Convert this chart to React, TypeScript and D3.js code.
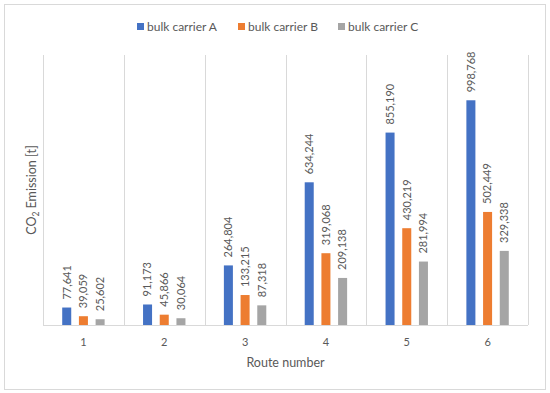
import React, { useEffect, useRef } from 'react';
import * as d3 from 'd3';

const routes = ['1', '2', '3', '4', '5', '6'];
const seriesNames = ['bulk carrier A', 'bulk carrier B', 'bulk carrier C'];
const carrierA = [77641, 91173, 264804, 634244, 855190, 998768];
const carrierB = [39059, 45866, 133215, 319068, 430219, 502449];
const carrierC = [25602, 30064, 87318, 209138, 281994, 329338];
const colors = ['#4472C4', '#ED7D31', '#A5A5A5'];

const W = 550;
const H = 393;
const FONT = 'Lato, "Open Sans", sans-serif';

export default function App() {
  const ref = useRef<SVGSVGElement>(null);

  useEffect(() => {
    const svg = d3.select(ref.current);
    svg.selectAll('*').remove();

    const margin = { top: 55, right: 22, bottom: 68, left: 43 };
    const innerW = W - margin.left - margin.right;
    const innerH = H - margin.top - margin.bottom;
    const series = [carrierA, carrierB, carrierC];

    // chart frame
    svg.append('rect')
      .attr('x', 4.5).attr('y', 4.5)
      .attr('width', 541).attr('height', 385)
      .attr('fill', '#fff')
      .attr('stroke', '#d9d9d9');

    const x0 = d3.scaleBand().domain(routes).range([0, innerW]);
    const x1 = d3.scaleBand<number>()
      .domain([0, 1, 2])
      .range([-21.2, 21.2])
      .paddingInner(0.46);
    const y = d3.scaleLinear().domain([0, 1200000]).range([innerH, 0]);

    const g = svg.append('g').attr('transform', `translate(${margin.left},${margin.top})`);

    // vertical gridlines at category boundaries
    const bounds = routes.map(r => x0(r) as number).concat([innerW]);
    g.selectAll('line.grid')
      .data(bounds)
      .join('line')
      .attr('class', 'grid')
      .attr('x1', d => Math.round(d) + 0.5).attr('x2', d => Math.round(d) + 0.5)
      .attr('y1', 0).attr('y2', innerH)
      .attr('stroke', '#d9d9d9');

    // baseline
    g.append('line')
      .attr('x1', 0).attr('x2', innerW)
      .attr('y1', innerH + 0.5).attr('y2', innerH + 0.5)
      .attr('stroke', '#d9d9d9');

    series.forEach((vals, si) => {
      const cx = (r: string) => (x0(r) as number) + x0.bandwidth() / 2 + (x1(si) as number);
      g.selectAll(`rect.s${si}`)
        .data(vals)
        .join('rect')
        .attr('class', `s${si}`)
        .attr('x', (d, i) => cx(routes[i]))
        .attr('y', d => y(d))
        .attr('width', x1.bandwidth())
        .attr('height', d => innerH - y(d))
        .attr('fill', colors[si]);

      g.selectAll(`text.l${si}`)
        .data(vals)
        .join('text')
        .attr('class', `l${si}`)
        .attr('transform', (d, i) => `translate(${cx(routes[i]) + x1.bandwidth() / 2},${y(d) - 8}) rotate(-90)`)
        .attr('dy', '0.35em')
        .attr('font-family', FONT)
        .attr('font-size', 11)
        .attr('fill', '#595959')
        .text(d => d3.format(',')(d));
    });

    // x tick labels
    g.selectAll('text.tick')
      .data(routes)
      .join('text')
      .attr('class', 'tick')
      .attr('x', d => (x0(d) as number) + x0.bandwidth() / 2)
      .attr('y', innerH + 21)
      .attr('text-anchor', 'middle')
      .attr('font-family', FONT)
      .attr('font-size', 11)
      .attr('fill', '#595959')
      .text(d => d);

    // axis titles
    svg.append('text')
      .attr('x', margin.left + innerW / 2)
      .attr('y', 367)
      .attr('text-anchor', 'middle')
      .attr('font-family', FONT)
      .attr('font-size', 12.5)
      .attr('fill', '#595959')
      .text('Route number');

    const yt = svg.append('text')
      .attr('transform', `translate(36,${margin.top + innerH / 2}) rotate(-90)`)
      .attr('text-anchor', 'middle')
      .attr('font-family', FONT)
      .attr('font-size', 12.5)
      .attr('fill', '#595959');
    yt.append('tspan').text('CO');
    yt.append('tspan').attr('font-size', 8.5).attr('dy', 3).text('2');
    yt.append('tspan').attr('dy', -3).text(' Emission [t]');

    // legend
    const legendX = [137, 238, 338];
    const legend = svg.append('g');
    seriesNames.forEach((name, i) => {
      legend.append('rect')
        .attr('x', legendX[i]).attr('y', 23)
        .attr('width', 7).attr('height', 7)
        .attr('fill', colors[i]);
      legend.append('text')
        .attr('x', legendX[i] + 10).attr('y', 27)
        .attr('dy', '0.35em')
        .attr('font-family', FONT)
        .attr('font-size', 12)
        .attr('fill', '#595959')
        .text(name);
    });
  }, []);

  return (
    <svg
      ref={ref}
      width={W}
      height={H}
      style={{ position: 'absolute', left: 0, top: 0, background: '#fff' }}
    />
  );
}
